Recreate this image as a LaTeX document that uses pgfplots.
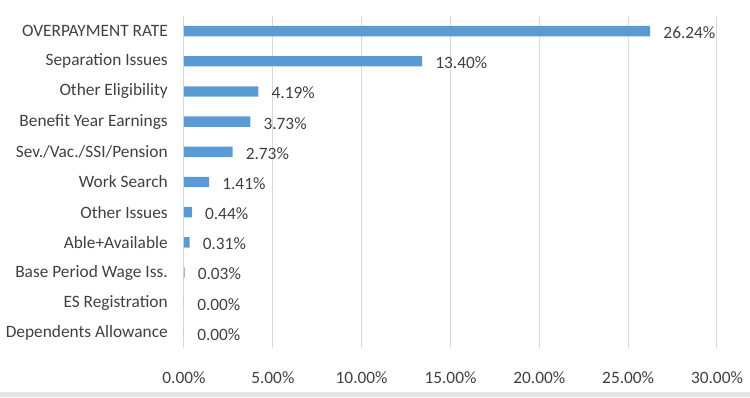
\documentclass[border=0pt]{standalone}
\usepackage{pgfplots}
\pgfplotsset{compat=1.18}
\usepackage{fontspec}
\setmainfont{Carlito}
\definecolor{barblue}{HTML}{5B9BD5}
\definecolor{gridgray}{HTML}{D9D9D9}
\definecolor{txt}{HTML}{404040}
\definecolor{band}{HTML}{E6E6E6}
\begin{document}
\begin{tikzpicture}
\useasboundingbox (0,0) rectangle (562.5pt,297.75pt);
\fill[band] (0,0) rectangle (562.5pt,3.75pt);
\begin{axis}[
  at={(138pt,36.75pt)}, anchor=south west,
  scale only axis, width=399.75pt, height=249pt,
  xbar, bar width=7.8pt,
  xmin=0, xmax=30, ymin=-0.5, ymax=10.5,
  xtick={0,5,...,30},
  ytick={0,...,10},
  yticklabels={Dependents Allowance, ES Registration, Base Period Wage Iss., Able+Available, Other Issues, Work Search, Sev./Vac./SSI/Pension, Benefit Year Earnings, Other Eligibility, Separation Issues, OVERPAYMENT RATE},
  xticklabel={\pgfmathprintnumber[fixed,fixed zerofill,precision=2]{\tick}\%},
  /pgf/number format/assume math mode=true,
  xmajorgrids, grid style={gridgray, line width=0.75pt},
  axis line style={draw=none},
  major tick length=0pt,
  tick style={draw=none},
  xticklabel style={font=\fontsize{13}{15}\selectfont, text=txt, anchor=center, inner sep=0pt, yshift=-22.5pt},
  yticklabel style={font=\fontsize{13}{15}\selectfont, text=txt, anchor=east, inner sep=0pt, xshift=-12pt},
  nodes near coords={\pgfmathprintnumber[fixed,fixed zerofill,precision=2]{\pgfplotspointmeta}\%},
  nodes near coords style={font=\fontsize{13}{15}\selectfont, text=txt, anchor=west, inner sep=0pt, xshift=9.75pt, yshift=-1.2pt},
  point meta=explicit,
]
\addplot[fill=barblue, draw=none] table[x=v, y=i, meta=v] {
i v
0 0.00
1 0.00
2 0.03
3 0.31
4 0.44
5 1.41
6 2.73
7 3.73
8 4.19
9 13.40
10 26.24
};
\end{axis}
\end{tikzpicture}
\end{document}
